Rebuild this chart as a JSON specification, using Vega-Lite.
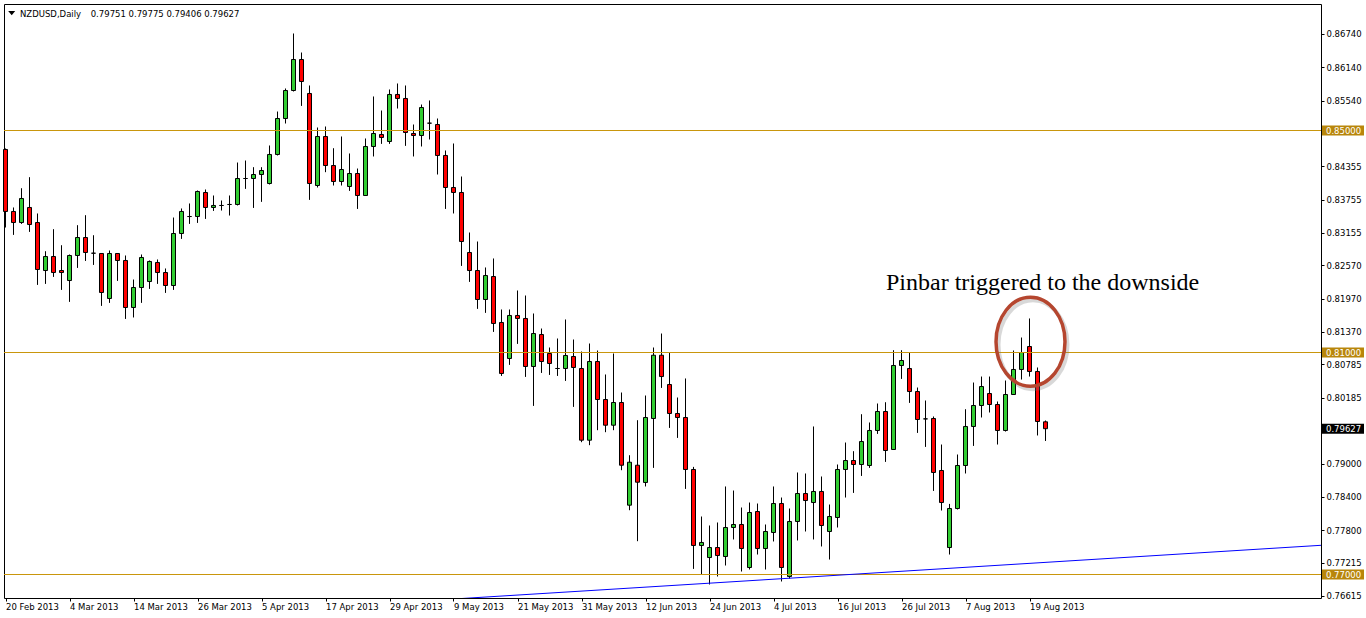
{
  "$schema": "https://vega.github.io/schema/vega-lite/v6.json",
  "width": 1317,
  "height": 594,
  "autosize": {"type": "none"},
  "padding": {"left": 4, "top": 4, "right": 45, "bottom": 20},
  "background": "white",
  "config": {
    "view": {"stroke": "black", "strokeWidth": 1},
    "font": "DejaVu Sans",
    "axis": {"labelOverlap": false, "labelSeparation": 0, "labelBound": false}
  },
  "datasets": {
    "ohlc": [
      {"d":"2013-02-20","o":0.84658,"h":0.84676,"l":0.83252,"c":0.83541},
      {"d":"2013-02-21","o":0.83541,"h":0.83613,"l":0.83119,"c":0.83342},
      {"d":"2013-02-22","o":0.83342,"h":0.83960,"l":0.83317,"c":0.83775},
      {"d":"2013-02-25","o":0.83613,"h":0.84159,"l":0.83173,"c":0.83306},
      {"d":"2013-02-26","o":0.83342,"h":0.83505,"l":0.82218,"c":0.82496},
      {"d":"2013-02-27","o":0.82477,"h":0.82825,"l":0.82236,"c":0.82730},
      {"d":"2013-02-28","o":0.82730,"h":0.83222,"l":0.82362,"c":0.82441},
      {"d":"2013-03-01","o":0.82477,"h":0.82933,"l":0.82128,"c":0.82441},
      {"d":"2013-03-04","o":0.82297,"h":0.82766,"l":0.81912,"c":0.82748},
      {"d":"2013-03-05","o":0.82748,"h":0.83294,"l":0.82524,"c":0.83072},
      {"d":"2013-03-06","o":0.83072,"h":0.83474,"l":0.82650,"c":0.82802},
      {"d":"2013-03-07","o":0.82789,"h":0.83113,"l":0.82578,"c":0.82789},
      {"d":"2013-03-08","o":0.82784,"h":0.82790,"l":0.81840,"c":0.82081},
      {"d":"2013-03-11","o":0.81973,"h":0.82838,"l":0.81894,"c":0.82784},
      {"d":"2013-03-12","o":0.82784,"h":0.82790,"l":0.82290,"c":0.82658},
      {"d":"2013-03-13","o":0.82658,"h":0.82748,"l":0.81605,"c":0.81811},
      {"d":"2013-03-14","o":0.81811,"h":0.82315,"l":0.81631,"c":0.82171},
      {"d":"2013-03-15","o":0.82171,"h":0.82766,"l":0.81894,"c":0.82712},
      {"d":"2013-03-18","o":0.82279,"h":0.82658,"l":0.82146,"c":0.82640},
      {"d":"2013-03-19","o":0.82622,"h":0.82676,"l":0.82236,"c":0.82441},
      {"d":"2013-03-20","o":0.82441,"h":0.82514,"l":0.82074,"c":0.82207},
      {"d":"2013-03-21","o":0.82207,"h":0.83432,"l":0.82128,"c":0.83144},
      {"d":"2013-03-22","o":0.83144,"h":0.83595,"l":0.83047,"c":0.83541},
      {"d":"2013-03-25","o":0.83450,"h":0.83685,"l":0.83317,"c":0.83450},
      {"d":"2013-03-26","o":0.83450,"h":0.83919,"l":0.83335,"c":0.83901},
      {"d":"2013-03-27","o":0.83883,"h":0.83937,"l":0.83407,"c":0.83613},
      {"d":"2013-03-28","o":0.83613,"h":0.83829,"l":0.83551,"c":0.83649},
      {"d":"2013-03-29","o":0.83649,"h":0.83739,"l":0.83558,"c":0.83649},
      {"d":"2013-04-01","o":0.83667,"h":0.83829,"l":0.83468,"c":0.83667},
      {"d":"2013-04-02","o":0.83667,"h":0.84423,"l":0.83649,"c":0.84135},
      {"d":"2013-04-03","o":0.84135,"h":0.84459,"l":0.83948,"c":0.84135},
      {"d":"2013-04-04","o":0.84135,"h":0.84339,"l":0.83605,"c":0.84207},
      {"d":"2013-04-05","o":0.84207,"h":0.84339,"l":0.83714,"c":0.84279},
      {"d":"2013-04-08","o":0.84045,"h":0.84730,"l":0.84027,"c":0.84568},
      {"d":"2013-04-09","o":0.84568,"h":0.85342,"l":0.84550,"c":0.85216},
      {"d":"2013-04-10","o":0.85216,"h":0.85757,"l":0.85126,"c":0.85721},
      {"d":"2013-04-11","o":0.85721,"h":0.86748,"l":0.85703,"c":0.86279},
      {"d":"2013-04-12","o":0.86279,"h":0.86405,"l":0.85443,"c":0.85883},
      {"d":"2013-04-15","o":0.85667,"h":0.85811,"l":0.83750,"c":0.84045},
      {"d":"2013-04-16","o":0.84009,"h":0.85054,"l":0.83973,"c":0.84892},
      {"d":"2013-04-17","o":0.84892,"h":0.85072,"l":0.84249,"c":0.84369},
      {"d":"2013-04-18","o":0.84369,"h":0.84681,"l":0.84009,"c":0.84081},
      {"d":"2013-04-19","o":0.84081,"h":0.84892,"l":0.84009,"c":0.84297},
      {"d":"2013-04-22","o":0.83991,"h":0.84586,"l":0.83912,"c":0.84225},
      {"d":"2013-04-23","o":0.84225,"h":0.84315,"l":0.83587,"c":0.83829},
      {"d":"2013-04-24","o":0.83829,"h":0.84856,"l":0.83825,"c":0.84712},
      {"d":"2013-04-25","o":0.84712,"h":0.85613,"l":0.84532,"c":0.84946},
      {"d":"2013-04-26","o":0.84928,"h":0.85360,"l":0.84759,"c":0.84874},
      {"d":"2013-04-29","o":0.84802,"h":0.85739,"l":0.84759,"c":0.85649},
      {"d":"2013-04-30","o":0.85649,"h":0.85847,"l":0.85396,"c":0.85577},
      {"d":"2013-05-01","o":0.85577,"h":0.85811,"l":0.84723,"c":0.84964},
      {"d":"2013-05-02","o":0.84946,"h":0.85108,"l":0.84532,"c":0.84910},
      {"d":"2013-05-03","o":0.84910,"h":0.85468,"l":0.84712,"c":0.85414},
      {"d":"2013-05-06","o":0.85132,"h":0.85541,"l":0.84838,"c":0.85132},
      {"d":"2013-05-07","o":0.85108,"h":0.85216,"l":0.84207,"c":0.84550},
      {"d":"2013-05-08","o":0.84550,"h":0.84640,"l":0.83587,"c":0.83973},
      {"d":"2013-05-09","o":0.83973,"h":0.84766,"l":0.83505,"c":0.83883},
      {"d":"2013-05-10","o":0.83883,"h":0.84171,"l":0.82560,"c":0.83000},
      {"d":"2013-05-13","o":0.82802,"h":0.83162,"l":0.82272,"c":0.82477},
      {"d":"2013-05-14","o":0.82477,"h":0.83000,"l":0.81786,"c":0.81955},
      {"d":"2013-05-15","o":0.81955,"h":0.82532,"l":0.81714,"c":0.82387},
      {"d":"2013-05-16","o":0.82369,"h":0.82694,"l":0.81371,"c":0.81523},
      {"d":"2013-05-17","o":0.81541,"h":0.81775,"l":0.80578,"c":0.80622},
      {"d":"2013-05-20","o":0.80892,"h":0.81775,"l":0.80777,"c":0.81667},
      {"d":"2013-05-21","o":0.81667,"h":0.82117,"l":0.81155,"c":0.81613},
      {"d":"2013-05-22","o":0.81613,"h":0.82027,"l":0.80560,"c":0.80748},
      {"d":"2013-05-23","o":0.80748,"h":0.81703,"l":0.80038,"c":0.81342},
      {"d":"2013-05-24","o":0.81324,"h":0.81432,"l":0.80632,"c":0.80838},
      {"d":"2013-05-27","o":0.80982,"h":0.81090,"l":0.80596,"c":0.80802},
      {"d":"2013-05-28","o":0.80712,"h":0.81252,"l":0.80578,"c":0.80712},
      {"d":"2013-05-29","o":0.80712,"h":0.81595,"l":0.80488,"c":0.80946},
      {"d":"2013-05-30","o":0.80928,"h":0.81234,"l":0.80020,"c":0.80730},
      {"d":"2013-05-31","o":0.80712,"h":0.81018,"l":0.79384,"c":0.79420},
      {"d":"2013-06-03","o":0.79420,"h":0.81162,"l":0.79330,"c":0.80838},
      {"d":"2013-06-04","o":0.80838,"h":0.81036,"l":0.79600,"c":0.80153},
      {"d":"2013-06-05","o":0.80153,"h":0.80604,"l":0.79564,"c":0.79690},
      {"d":"2013-06-06","o":0.79690,"h":0.80982,"l":0.79600,"c":0.80099},
      {"d":"2013-06-07","o":0.80099,"h":0.80279,"l":0.78879,"c":0.78969},
      {"d":"2013-06-10","o":0.78249,"h":0.79149,"l":0.78158,"c":0.79023},
      {"d":"2013-06-11","o":0.78969,"h":0.79780,"l":0.77600,"c":0.78663},
      {"d":"2013-06-12","o":0.78658,"h":0.80225,"l":0.78586,"c":0.79829},
      {"d":"2013-06-13","o":0.79811,"h":0.81090,"l":0.78921,"c":0.80951},
      {"d":"2013-06-14","o":0.80951,"h":0.81342,"l":0.80362,"c":0.80567},
      {"d":"2013-06-17","o":0.80423,"h":0.80993,"l":0.79641,"c":0.79901},
      {"d":"2013-06-18","o":0.79901,"h":0.80189,"l":0.79461,"c":0.79829},
      {"d":"2013-06-19","o":0.79829,"h":0.80532,"l":0.78542,"c":0.78892},
      {"d":"2013-06-20","o":0.78892,"h":0.78939,"l":0.77101,"c":0.77523},
      {"d":"2013-06-21","o":0.77523,"h":0.78045,"l":0.77000,"c":0.77577},
      {"d":"2013-06-24","o":0.77306,"h":0.77883,"l":0.76820,"c":0.77486},
      {"d":"2013-06-25","o":0.77486,"h":0.77937,"l":0.76964,"c":0.77342},
      {"d":"2013-06-26","o":0.77324,"h":0.78586,"l":0.77162,"c":0.77847},
      {"d":"2013-06-27","o":0.77847,"h":0.78513,"l":0.77631,"c":0.77901},
      {"d":"2013-06-28","o":0.77901,"h":0.78207,"l":0.77054,"c":0.77468},
      {"d":"2013-07-01","o":0.77126,"h":0.78297,"l":0.77090,"c":0.78117},
      {"d":"2013-07-02","o":0.78135,"h":0.78279,"l":0.77360,"c":0.77468},
      {"d":"2013-07-03","o":0.77468,"h":0.77901,"l":0.77090,"c":0.77775},
      {"d":"2013-07-04","o":0.77757,"h":0.78586,"l":0.77595,"c":0.78279},
      {"d":"2013-07-05","o":0.78279,"h":0.78387,"l":0.76874,"c":0.77126},
      {"d":"2013-07-08","o":0.76964,"h":0.78189,"l":0.76928,"c":0.77955},
      {"d":"2013-07-09","o":0.77955,"h":0.78838,"l":0.77613,"c":0.78459},
      {"d":"2013-07-10","o":0.78459,"h":0.78820,"l":0.77775,"c":0.78333},
      {"d":"2013-07-11","o":0.78297,"h":0.79667,"l":0.77631,"c":0.78496},
      {"d":"2013-07-12","o":0.78496,"h":0.78766,"l":0.77505,"c":0.77883},
      {"d":"2013-07-15","o":0.77775,"h":0.78261,"l":0.77270,"c":0.78045},
      {"d":"2013-07-16","o":0.78027,"h":0.78982,"l":0.77847,"c":0.78892},
      {"d":"2013-07-17","o":0.78892,"h":0.79378,"l":0.78387,"c":0.79054},
      {"d":"2013-07-18","o":0.79054,"h":0.79222,"l":0.78470,"c":0.78982},
      {"d":"2013-07-19","o":0.78982,"h":0.79888,"l":0.78776,"c":0.79396},
      {"d":"2013-07-22","o":0.78964,"h":0.79739,"l":0.78921,"c":0.79595},
      {"d":"2013-07-23","o":0.79595,"h":0.80081,"l":0.79533,"c":0.79937},
      {"d":"2013-07-24","o":0.79937,"h":0.80104,"l":0.79029,"c":0.79234},
      {"d":"2013-07-25","o":0.79252,"h":0.81041,"l":0.79245,"c":0.80766},
      {"d":"2013-07-26","o":0.80766,"h":0.81041,"l":0.80524,"c":0.80856},
      {"d":"2013-07-29","o":0.80712,"h":0.80993,"l":0.80092,"c":0.80297},
      {"d":"2013-07-30","o":0.80297,"h":0.80369,"l":0.79551,"c":0.79793},
      {"d":"2013-07-31","o":0.79804,"h":0.80135,"l":0.79299,"c":0.79804},
      {"d":"2013-08-01","o":0.79811,"h":0.79847,"l":0.78506,"c":0.78838},
      {"d":"2013-08-02","o":0.78874,"h":0.79342,"l":0.78153,"c":0.78297},
      {"d":"2013-08-05","o":0.77486,"h":0.78272,"l":0.77360,"c":0.78189},
      {"d":"2013-08-06","o":0.78189,"h":0.79162,"l":0.78171,"c":0.78964},
      {"d":"2013-08-07","o":0.78964,"h":0.79978,"l":0.78820,"c":0.79667},
      {"d":"2013-08-08","o":0.79667,"h":0.80459,"l":0.79317,"c":0.80045},
      {"d":"2013-08-09","o":0.80045,"h":0.80567,"l":0.79829,"c":0.80387},
      {"d":"2013-08-12","o":0.80261,"h":0.80567,"l":0.79919,"c":0.80063},
      {"d":"2013-08-13","o":0.80063,"h":0.80117,"l":0.79342,"c":0.79595},
      {"d":"2013-08-14","o":0.79595,"h":0.80495,"l":0.79576,"c":0.80243},
      {"d":"2013-08-15","o":0.80243,"h":0.81036,"l":0.80236,"c":0.80694},
      {"d":"2013-08-16","o":0.80694,"h":0.81270,"l":0.80513,"c":0.81000},
      {"d":"2013-08-19","o":0.81108,"h":0.81613,"l":0.80567,"c":0.80658},
      {"d":"2013-08-20","o":0.80658,"h":0.80730,"l":0.79505,"c":0.79757},
      {"d":"2013-08-21","o":0.79751,"h":0.79775,"l":0.79406,"c":0.79627}
    ],
    "levels": [{"p":0.85},{"p":0.81},{"p":0.77}],
    "trend": [{"n":56.3125,"p":0.76552},{"n":165.4375,"p":0.77526}],
    "boxes": [
      {"p":0.85,"t":"0.85000","kind":"level"},
      {"p":0.81,"t":"0.81000","kind":"level"},
      {"p":0.77,"t":"0.77000","kind":"level"},
      {"p":0.79627,"t":"0.79627","kind":"bid"}
    ]
  },
  "layer": [
    {
      "data": {"name": "ohlc"},
      "transform": [{"window": [{"op": "row_number", "as": "n"}], "sort": [{"field": "d"}]}],
      "mark": {"type": "rule", "color": "black", "strokeWidth": 1},
      "encoding": {
        "x": {
          "field": "n", "type": "quantitative",
          "scale": {"domain": [0.8125, 165.4375], "nice": false, "zero": false, "padding": 0},
          "axis": {
            "orient": "bottom", "title": null, "grid": false, "domain": false, "zindex": 2,
            "values": [1,9,17,25,33,41,49,57,65,73,81,89,97,105,113,121,129],
            "tickCount": 200,
            "labelExpr": "['20 Feb 2013','4 Mar 2013','14 Mar 2013','26 Mar 2013','5 Apr 2013','17 Apr 2013','29 Apr 2013','9 May 2013','21 May 2013','31 May 2013','12 Jun 2013','24 Jun 2013','4 Jul 2013','16 Jul 2013','26 Jul 2013','7 Aug 2013','19 Aug 2013'][round((datum.value-1)/8)]",
            "labelAlign": "left", "labelBaseline": "top", "labelPadding": 1,
            "labelFont": "DejaVu Sans", "labelFontSize": 8.5, "labelColor": "black",
            "tickColor": "black", "tickSize": 3, "labelFlush": false, "labelOverlap": false
          }
        },
        "y": {
          "field": "l", "type": "quantitative",
          "scale": {"domain": [0.765766, 0.872793], "nice": false, "zero": false, "padding": 0},
          "axis": {
            "orient": "right", "title": null, "grid": false, "domain": false, "zindex": 2,
            "values": [0.8674,0.8614,0.8554,0.84355,0.83755,0.83155,0.8257,0.8197,0.8137,0.80785,0.80185,0.79,0.784,0.778,0.77215,0.76615],
            "tickCount": 200,
            "format": ".5f",
            "labelFont": "DejaVu Sans", "labelFontSize": 8.5, "labelColor": "black",
            "labelPadding": 2, "tickColor": "black", "tickSize": 3,
            "labelFlush": false, "labelOverlap": false, "labelBound": false, "labelSeparation": 0
          }
        },
        "y2": {"field": "h"}
      }
    },
    {
      "data": {"name": "ohlc"},
      "transform": [{"window": [{"op": "row_number", "as": "n"}], "sort": [{"field": "d"}]}],
      "mark": {"type": "bar", "orient": "vertical", "size": 4, "stroke": "black", "strokeWidth": 1},
      "encoding": {
        "x": {"field": "n", "type": "quantitative"},
        "y": {"field": "o", "type": "quantitative"},
        "y2": {"field": "c"},
        "color": {"condition": {"test": "datum.c > datum.o", "value": "#32CD32"}, "value": "#FF0000"}
      }
    },
    {
      "data": {"name": "levels"},
      "mark": {"type": "rule", "color": "#C9960C", "strokeWidth": 1},
      "encoding": {
        "y": {"field": "p", "type": "quantitative"}
      }
    },
    {
      "data": {"name": "trend"},
      "mark": {"type": "line", "color": "#0000FF", "strokeWidth": 1, "clip": true},
      "encoding": {
        "x": {"field": "n", "type": "quantitative"},
        "y": {"field": "p", "type": "quantitative"}
      }
    },
    {
      "data": {"values": [{"n": 129.435, "p": 0.81141}]},
      "mark": {"type": "point", "shape": "M -0.775 0 A 0.775 1 0 1 0 0.775 0 A 0.775 1 0 1 0 -0.775 0 Z", "size": 7921, "filled": false, "stroke": "#777777", "strokeWidth": 4, "opacity": 0.28},
      "encoding": {
        "x": {"field": "n", "type": "quantitative"},
        "y": {"field": "p", "type": "quantitative"}
      }
    },
    {
      "data": {"values": [{"n": 129.125, "p": 0.81195}]},
      "mark": {"type": "point", "shape": "M -0.775 0 A 0.775 1 0 1 0 0.775 0 A 0.775 1 0 1 0 -0.775 0 Z", "size": 7921, "filled": false, "stroke": "#B5462F", "strokeWidth": 3.5, "opacity": 1},
      "encoding": {
        "x": {"field": "n", "type": "quantitative"},
        "y": {"field": "p", "type": "quantitative"}
      }
    },
    {
      "data": {"values": [{"n": 111.0625, "p": 0.82123, "t": "Pinbar triggered to the downside"}]},
      "mark": {"type": "text", "font": "Liberation Serif", "fontSize": 24, "align": "left", "baseline": "alphabetic", "color": "black"},
      "encoding": {
        "x": {"field": "n", "type": "quantitative"},
        "y": {"field": "p", "type": "quantitative"},
        "text": {"field": "t"}
      }
    },
    {
      "data": {"values": [{"n": 2.8125, "p": 0.87050, "t": "NZDUSD,Daily"}, {"n": 11.65, "p": 0.87050, "t": "0.79751 0.79775 0.79406 0.79627"}]},
      "mark": {"type": "text", "font": "DejaVu Sans", "fontSize": 8.5, "align": "left", "baseline": "alphabetic", "color": "black"},
      "encoding": {
        "x": {"field": "n", "type": "quantitative"},
        "y": {"field": "p", "type": "quantitative"},
        "text": {"field": "t"}
      }
    },
    {
      "data": {"values": [{"n": 1.775, "p": 0.87115}]},
      "mark": {"type": "point", "shape": "M -1 -0.6 L 1 -0.6 L 0 0.6 Z", "size": 49, "filled": true, "color": "black", "opacity": 1},
      "encoding": {
        "x": {"field": "n", "type": "quantitative"},
        "y": {"field": "p", "type": "quantitative"}
      }
    },
    {
      "data": {"name": "boxes"},
      "mark": {"type": "bar", "orient": "horizontal", "size": 10},
      "encoding": {
        "x": {"datum": 165.5625, "type": "quantitative"},
        "x2": {"datum": 170.8125},
        "y": {"field": "p", "type": "quantitative"},
        "color": {"field": "kind", "type": "nominal", "scale": {"domain": ["level", "bid"], "range": ["#B8860B", "#000000"]}, "legend": null}
      }
    },
    {
      "data": {"name": "boxes"},
      "mark": {"type": "text", "font": "DejaVu Sans", "fontSize": 8.5, "align": "left", "baseline": "middle", "color": "white"},
      "encoding": {
        "x": {"datum": 166.0625, "type": "quantitative"},
        "y": {"field": "p", "type": "quantitative"},
        "text": {"field": "t"}
      }
    }
  ]
}
